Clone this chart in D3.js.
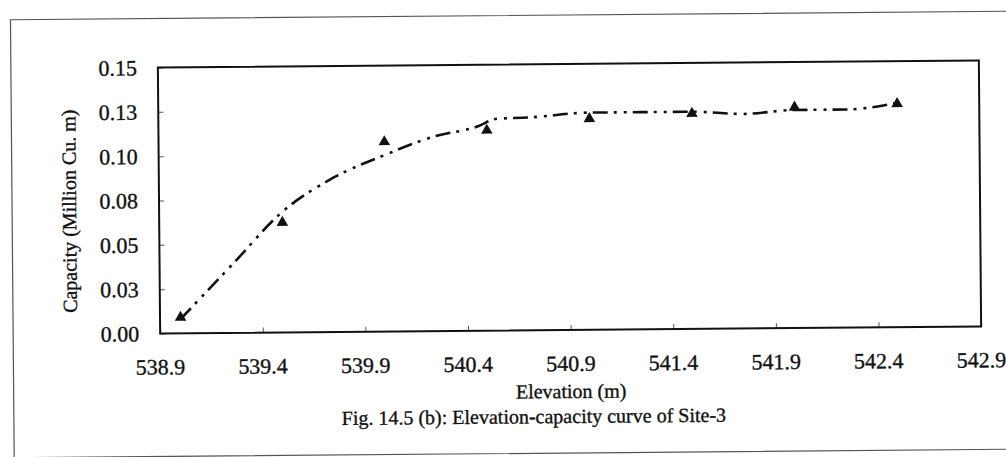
<!DOCTYPE html>
<html>
<head>
<meta charset="utf-8">
<script src="https://cdn.jsdelivr.net/npm/d3@7"></script>
<style>
  html, body { margin: 0; padding: 0; background: #fff; }
  svg { display: block; }
  text { font-family: "Liberation Serif", "Times New Roman", serif; fill: #111; stroke: #111; stroke-width: 0.35px; }
</style>
</head>
<body>
<svg id="chart" width="1006" height="457"></svg>
<script>
// Observed elevation-capacity points (triangles)
const elevation = [539.0, 539.5, 540.0, 540.5, 541.0, 541.5, 542.0, 542.5];
const capacity  = [0.009, 0.062, 0.107, 0.113, 0.119, 0.1215, 0.1245, 0.126];

// Fitted curve (dash-dot-dot line)
const curveElevation = [539.0, 539.25, 539.5, 539.75, 540.0, 540.25, 540.45, 540.55, 540.7, 541.0, 541.25, 541.5, 541.75, 542.0, 542.25, 542.5];
const curveCapacity  = [0.008, 0.038, 0.068, 0.087, 0.0995, 0.110, 0.115, 0.1195, 0.120, 0.1225, 0.1225, 0.1225, 0.121, 0.123, 0.123, 0.1265];

// Axis ticks and their printed labels
const xTicks      = [538.9, 539.4, 539.9, 540.4, 540.9, 541.4, 541.9, 542.4, 542.9];
const xTickLabels = ["538.9", "539.4", "539.9", "540.4", "540.9", "541.4", "541.9", "542.4", "542.9"];
const yTicks      = [0, 0.025, 0.05, 0.075, 0.10, 0.125, 0.15];
const yTickLabels = ["0.00", "0.03", "0.05", "0.08", "0.10", "0.13", "0.15"];

const xTitle = "Elevation (m)";
const yTitle = "Capacity (Million Cu. m)";
const caption = "Fig. 14.5 (b): Elevation-capacity curve of Site-3";

const margin = { left: 159, top: 64 };
const width = 821, height = 266;

const svg = d3.select("#chart");
// whole figure sits at a slight tilt
const page = svg.append("g").attr("transform", "rotate(-0.49, 569, 197)");

// outer figure frame
page.append("rect")
  .attr("x", 12).attr("y", 15).attr("width", 1010).attr("height", 438)
  .attr("fill", "none").attr("stroke", "#555").attr("stroke-width", 1.2);

const g = page.append("g").attr("transform", `translate(${margin.left},${margin.top})`);

const x = d3.scaleLinear().domain([538.9, 542.9]).range([0, width]);
const y = d3.scaleLinear().domain([0, 0.15]).range([height, 0]);

// inside tick marks
const xAxis = d3.axisBottom(x).tickValues(xTicks).tickSize(-5).tickFormat("");
const yAxis = d3.axisLeft(y).tickValues(yTicks).tickSize(-5).tickFormat("");
g.append("g").attr("transform", `translate(0,${height})`).call(xAxis)
  .call(a => a.select(".domain").remove())
  .call(a => a.selectAll("line").attr("stroke", "#555"));
g.append("g").call(yAxis)
  .call(a => a.select(".domain").remove())
  .call(a => a.selectAll("line").attr("stroke", "#555"));

// plot frame
g.append("rect").attr("width", width).attr("height", height)
  .attr("fill", "none").attr("stroke", "#111").attr("stroke-width", 2);

// tick labels
g.append("g").selectAll("text").data(xTicks).join("text")
  .attr("x", d => x(d)).attr("y", height + 41)
  .attr("text-anchor", "middle").attr("font-size", 22)
  .text((d, i) => xTickLabels[i]);
g.append("g").selectAll("text").data(yTicks).join("text")
  .attr("x", -21).attr("y", d => y(d)).attr("dy", "0.35em")
  .attr("text-anchor", "end").attr("font-size", 22)
  .text((d, i) => yTickLabels[i]);

// fitted curve
const curveData = curveElevation.map((e, i) => [e, curveCapacity[i]]);
g.append("path").datum(curveData)
  .attr("fill", "none").attr("stroke", "#111").attr("stroke-width", 2.6)
  .attr("stroke-dasharray", "15,6,3,7,3,6")
  .attr("d", d3.line().x(d => x(d[0])).y(d => y(d[1])).curve(d3.curveMonotoneX));

// observed points
const pts = elevation.map((e, i) => [e, capacity[i]]);
g.append("g").selectAll("path").data(pts).join("path")
  .attr("transform", d => `translate(${x(d[0])},${y(d[1])})`)
  .attr("d", d3.symbol(d3.symbolTriangle, 58))
  .attr("fill", "#111");

// titles
g.append("text").attr("x", width / 2).attr("y", height + 68)
  .attr("text-anchor", "middle").attr("font-size", 20).text(xTitle);
page.append("text").attr("transform", "translate(76,207) rotate(-90)")
  .attr("text-anchor", "middle").attr("font-size", 20).text(yTitle);
page.append("text").attr("x", 532).attr("y", 423)
  .attr("text-anchor", "middle").attr("font-size", 20).text(caption);
</script>
</body>
</html>
